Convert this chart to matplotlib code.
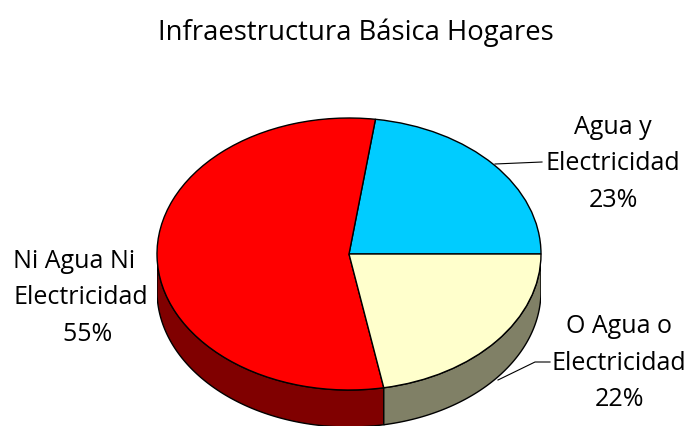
#!/usr/bin/env python3
import numpy as np
import matplotlib
matplotlib.use("Agg")
import matplotlib.pyplot as plt

TITLE = "Infraestructura Básica Hogares"
labels = ["Agua y\nElectricidad\n23%", "Ni Agua Ni  \nElectricidad\n  55%", "O Agua o\nElectricidad\n22%"]
values = [22.8, 55.1, 22.1]
top_colors = ["#00ccff", "#ff0000", "#ffffcc"]
side_colors = ["#006680", "#800000", "#808066"]

W, H = 689, 426
CX, CY, RX, RY, DEPTH = 349, 254, 192, 136, 37

fig = plt.figure(figsize=(W / 100, H / 100), dpi=100)
# axes covers ellipse plus the depth of the side wall
ax = fig.add_axes([(CX - RX) / W, 1 - (CY + RY + DEPTH) / H, 2 * RX / W, (2 * RY + DEPTH) / H])
depth = DEPTH / RY

# side wall, front half only (180..360 deg)
ang = np.cumsum([0] + values) * 3.6
for i in range(len(values)):
    a0, a1 = max(ang[i], 180), min(ang[i + 1], 360)
    if a1 <= a0:
        continue
    t = np.radians(np.linspace(a0, a1, 100))
    x, y = np.cos(t), np.sin(t)
    ax.fill(np.r_[x, x[::-1]], np.r_[y, y[::-1] - depth], fc=side_colors[i], ec="black", lw=1, zorder=1)

ax.pie(values, colors=top_colors, startangle=0, counterclock=True, radius=1,
       wedgeprops=dict(edgecolor="black", linewidth=1, zorder=2))
ax.set_aspect("auto")
ax.set_xlim(-1, 1)
ax.set_ylim(-1 - depth, 1)
ax.axis("off")

def fx(px):
    return px / W

def fy(py):
    return 1 - py / H

font = dict(family="Open Sans", color="black", ha="center", va="center", fontsize=18, linespacing=1.63)
fig.text(fx(356), fy(33), TITLE, family="Open Sans", color="black", ha="center", va="center", fontsize=19.8)
fig.text(fx(613), fy(164), labels[0], **font)
fig.text(fx(81), fy(298), labels[1], **font)
fig.text(fx(619), fy(363), labels[2], **font)

# leader lines
fig.add_artist(plt.Line2D([fx(495), fx(542)], [fy(164), fy(162)], color="black", lw=0.8))
fig.add_artist(plt.Line2D([fx(498), fx(535), fx(550)], [fy(380), fy(362), fy(362)], color="black", lw=0.8))

fig.savefig("out.png", dpi=100)
plt.close(fig)
